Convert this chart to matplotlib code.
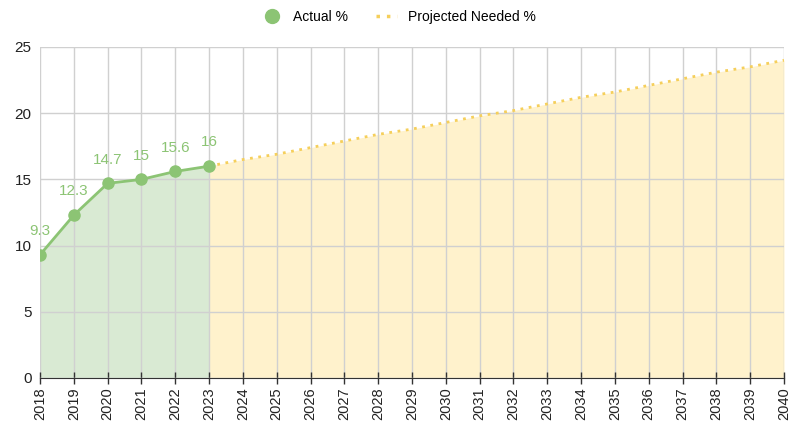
import matplotlib.pyplot as plt
from matplotlib.lines import Line2D

plt.rcParams['font.family'] = ['Liberation Sans', 'DejaVu Sans']

years = list(range(2018, 2041))
actual_years = [2018, 2019, 2020, 2021, 2022, 2023]
actual = [9.3, 12.3, 14.7, 15, 15.6, 16]
proj_years = list(range(2023, 2041))
projected = [16, 16.5, 16.9, 17.4, 17.9, 18.4, 18.8, 19.3, 19.8, 20.2,
             20.7, 21.2, 21.6, 22.1, 22.6, 23.1, 23.5, 24]

green = '#8cc474'
green_fill = '#d9ead3'
yellow = '#f5cf5b'
yellow_fill = '#fff2cc'

fig = plt.figure(figsize=(7.97, 4.30), dpi=100)
ax = fig.add_axes([0.0502, 0.121, 0.9335, 0.7697])

# filled areas
ax.fill_between(proj_years, projected, 0, color=yellow_fill, zorder=1, linewidth=0)
ax.fill_between(actual_years, actual, 0, color=green_fill, zorder=1, linewidth=0)

ax.plot(proj_years, projected, linestyle=(0, (1, 2)), color=yellow, linewidth=2, zorder=3)
ax.plot(actual_years, actual, color=green, linewidth=2, marker='o', markersize=8, zorder=4)

for x, v in zip(actual_years, actual):
    ax.annotate(f'{v:g}', (x, v), xytext=(0, 12), textcoords='offset points',
                ha='center', va='bottom', color=green, fontsize=11)

ax.set_xlim(2018, 2040)
ax.set_ylim(0, 25)
ax.set_xticks(years)
ax.set_xticklabels([str(y) for y in years], rotation=90, fontsize=10.5, color='#222222')
ax.set_yticks([0, 5, 10, 15, 20, 25])
ax.tick_params(axis='y', length=0, labelsize=11, labelcolor='#222222', pad=6)
ax.tick_params(axis='x', direction='inout', length=8, width=1, color='#333333', pad=3)

ax.grid(True, color='#d0d0d0', linewidth=1, zorder=2)
ax.set_axisbelow(False)
for s in ['top', 'right', 'left']:
    ax.spines[s].set_visible(False)
ax.spines['bottom'].set_color('#333333')

handles = [
    Line2D([], [], color=green, marker='o', linestyle='none', markersize=10),
    Line2D([], [], color=yellow, linestyle=(0, (1, 2)), linewidth=2.5),
]
fig.legend(handles, ['Actual %', 'Projected Needed %'], loc='upper center',
           bbox_to_anchor=(0.5, 1.005), ncol=2, frameon=False, fontsize=10,
           handlelength=1.5, columnspacing=2)

fig.savefig('out.png', dpi=100)
